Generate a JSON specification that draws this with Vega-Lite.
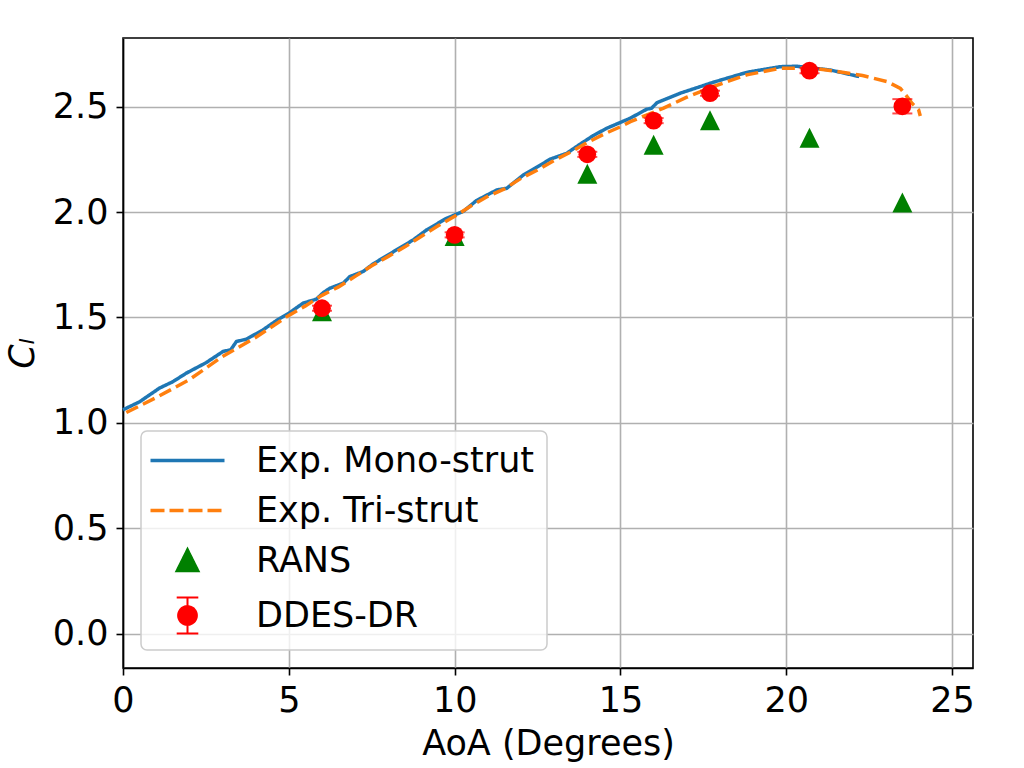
{
  "$schema": "https://vega.github.io/schema/vega-lite/v6.json",
  "autosize": {"type": "none"},
  "padding": {"left": 123, "top": 38, "right": 51, "bottom": 100},
  "width": 850,
  "height": 630,
  "config": {
    "font": "DejaVu Sans",
    "view": {"stroke": "black", "strokeWidth": 1.6},
    "axis": {
      "labelFont": "DejaVu Sans", "labelFontSize": 35, "labelColor": "black",
      "titleFont": "DejaVu Sans", "titleFontSize": 35, "titleColor": "black", "titleFontWeight": "normal",
      "domainColor": "black", "domainWidth": 1.6,
      "tickColor": "black", "tickWidth": 1.6, "tickSize": 7,
      "gridColor": "#b0b0b0", "gridWidth": 1.6, "labelPadding": 8, "labelFlush": false
    },
    "legend": {"labelFont": "DejaVu Sans", "labelFontSize": 35, "labelColor": "black", "labelLimit": 0}
  },
  "datasets": {
    "exp": [
      {"series": "Exp. Mono-strut", "AoA": 0, "Cl": 1.062},
      {"series": "Exp. Mono-strut", "AoA": 0.5, "Cl": 1.1},
      {"series": "Exp. Mono-strut", "AoA": 1.1, "Cl": 1.165},
      {"series": "Exp. Mono-strut", "AoA": 1.5, "Cl": 1.195},
      {"series": "Exp. Mono-strut", "AoA": 1.91, "Cl": 1.236},
      {"series": "Exp. Mono-strut", "AoA": 2.5, "Cl": 1.285},
      {"series": "Exp. Mono-strut", "AoA": 3.02, "Cl": 1.339},
      {"series": "Exp. Mono-strut", "AoA": 3.25, "Cl": 1.347},
      {"series": "Exp. Mono-strut", "AoA": 3.42, "Cl": 1.386},
      {"series": "Exp. Mono-strut", "AoA": 3.72, "Cl": 1.397},
      {"series": "Exp. Mono-strut", "AoA": 4.22, "Cl": 1.441},
      {"series": "Exp. Mono-strut", "AoA": 4.63, "Cl": 1.486},
      {"series": "Exp. Mono-strut", "AoA": 5.0, "Cl": 1.52},
      {"series": "Exp. Mono-strut", "AoA": 5.43, "Cl": 1.568},
      {"series": "Exp. Mono-strut", "AoA": 5.83, "Cl": 1.587},
      {"series": "Exp. Mono-strut", "AoA": 6.04, "Cl": 1.618},
      {"series": "Exp. Mono-strut", "AoA": 6.24, "Cl": 1.639},
      {"series": "Exp. Mono-strut", "AoA": 6.64, "Cl": 1.663},
      {"series": "Exp. Mono-strut", "AoA": 6.84, "Cl": 1.694},
      {"series": "Exp. Mono-strut", "AoA": 7.24, "Cl": 1.718},
      {"series": "Exp. Mono-strut", "AoA": 7.54, "Cl": 1.754},
      {"series": "Exp. Mono-strut", "AoA": 8.25, "Cl": 1.821},
      {"series": "Exp. Mono-strut", "AoA": 8.75, "Cl": 1.868},
      {"series": "Exp. Mono-strut", "AoA": 9.16, "Cl": 1.916},
      {"series": "Exp. Mono-strut", "AoA": 9.76, "Cl": 1.971},
      {"series": "Exp. Mono-strut", "AoA": 10.26, "Cl": 2.003},
      {"series": "Exp. Mono-strut", "AoA": 10.66, "Cl": 2.055},
      {"series": "Exp. Mono-strut", "AoA": 11.27, "Cl": 2.105},
      {"series": "Exp. Mono-strut", "AoA": 11.57, "Cl": 2.113},
      {"series": "Exp. Mono-strut", "AoA": 12.07, "Cl": 2.176},
      {"series": "Exp. Mono-strut", "AoA": 12.37, "Cl": 2.203},
      {"series": "Exp. Mono-strut", "AoA": 12.88, "Cl": 2.251},
      {"series": "Exp. Mono-strut", "AoA": 13.38, "Cl": 2.279},
      {"series": "Exp. Mono-strut", "AoA": 13.78, "Cl": 2.322},
      {"series": "Exp. Mono-strut", "AoA": 14.18, "Cl": 2.363},
      {"series": "Exp. Mono-strut", "AoA": 14.59, "Cl": 2.398},
      {"series": "Exp. Mono-strut", "AoA": 15.29, "Cl": 2.445},
      {"series": "Exp. Mono-strut", "AoA": 15.79, "Cl": 2.488},
      {"series": "Exp. Mono-strut", "AoA": 15.94, "Cl": 2.493},
      {"series": "Exp. Mono-strut", "AoA": 16.1, "Cl": 2.519},
      {"series": "Exp. Mono-strut", "AoA": 16.8, "Cl": 2.564},
      {"series": "Exp. Mono-strut", "AoA": 17.8, "Cl": 2.616},
      {"series": "Exp. Mono-strut", "AoA": 18.81, "Cl": 2.663},
      {"series": "Exp. Mono-strut", "AoA": 19.82, "Cl": 2.69},
      {"series": "Exp. Mono-strut", "AoA": 20.32, "Cl": 2.692},
      {"series": "Exp. Mono-strut", "AoA": 21.33, "Cl": 2.674},
      {"series": "Exp. Mono-strut", "AoA": 22.2, "Cl": 2.643},
      {"series": "Exp. Tri-strut", "AoA": 0.1, "Cl": 1.049},
      {"series": "Exp. Tri-strut", "AoA": 1, "Cl": 1.12},
      {"series": "Exp. Tri-strut", "AoA": 2, "Cl": 1.205},
      {"series": "Exp. Tri-strut", "AoA": 3, "Cl": 1.315},
      {"series": "Exp. Tri-strut", "AoA": 4, "Cl": 1.405},
      {"series": "Exp. Tri-strut", "AoA": 4.6, "Cl": 1.468},
      {"series": "Exp. Tri-strut", "AoA": 5, "Cl": 1.51},
      {"series": "Exp. Tri-strut", "AoA": 5.5, "Cl": 1.555},
      {"series": "Exp. Tri-strut", "AoA": 6, "Cl": 1.605},
      {"series": "Exp. Tri-strut", "AoA": 6.5, "Cl": 1.645},
      {"series": "Exp. Tri-strut", "AoA": 7, "Cl": 1.695},
      {"series": "Exp. Tri-strut", "AoA": 7.5, "Cl": 1.745},
      {"series": "Exp. Tri-strut", "AoA": 8, "Cl": 1.79},
      {"series": "Exp. Tri-strut", "AoA": 8.5, "Cl": 1.835},
      {"series": "Exp. Tri-strut", "AoA": 9, "Cl": 1.885},
      {"series": "Exp. Tri-strut", "AoA": 9.5, "Cl": 1.935},
      {"series": "Exp. Tri-strut", "AoA": 10, "Cl": 1.98},
      {"series": "Exp. Tri-strut", "AoA": 10.5, "Cl": 2.03},
      {"series": "Exp. Tri-strut", "AoA": 11, "Cl": 2.075},
      {"series": "Exp. Tri-strut", "AoA": 11.5, "Cl": 2.11},
      {"series": "Exp. Tri-strut", "AoA": 12, "Cl": 2.16},
      {"series": "Exp. Tri-strut", "AoA": 12.5, "Cl": 2.2},
      {"series": "Exp. Tri-strut", "AoA": 13, "Cl": 2.245},
      {"series": "Exp. Tri-strut", "AoA": 13.5, "Cl": 2.285},
      {"series": "Exp. Tri-strut", "AoA": 14, "Cl": 2.33},
      {"series": "Exp. Tri-strut", "AoA": 14.5, "Cl": 2.37},
      {"series": "Exp. Tri-strut", "AoA": 15, "Cl": 2.405},
      {"series": "Exp. Tri-strut", "AoA": 15.3, "Cl": 2.429},
      {"series": "Exp. Tri-strut", "AoA": 16.3, "Cl": 2.493},
      {"series": "Exp. Tri-strut", "AoA": 17, "Cl": 2.545},
      {"series": "Exp. Tri-strut", "AoA": 17.8, "Cl": 2.596},
      {"series": "Exp. Tri-strut", "AoA": 18.81, "Cl": 2.651},
      {"series": "Exp. Tri-strut", "AoA": 19.82, "Cl": 2.683},
      {"series": "Exp. Tri-strut", "AoA": 20.82, "Cl": 2.683},
      {"series": "Exp. Tri-strut", "AoA": 21.5, "Cl": 2.668},
      {"series": "Exp. Tri-strut", "AoA": 22.3, "Cl": 2.648},
      {"series": "Exp. Tri-strut", "AoA": 23.04, "Cl": 2.619},
      {"series": "Exp. Tri-strut", "AoA": 23.44, "Cl": 2.587},
      {"series": "Exp. Tri-strut", "AoA": 23.64, "Cl": 2.548},
      {"series": "Exp. Tri-strut", "AoA": 23.79, "Cl": 2.516},
      {"series": "Exp. Tri-strut", "AoA": 23.99, "Cl": 2.485},
      {"series": "Exp. Tri-strut", "AoA": 24.04, "Cl": 2.456}
    ],
    "rans": [
      {"series": "RANS", "AoA": 6.0, "Cl": 1.53},
      {"series": "RANS", "AoA": 10.0, "Cl": 1.887},
      {"series": "RANS", "AoA": 14.0, "Cl": 2.182},
      {"series": "RANS", "AoA": 16.0, "Cl": 2.319},
      {"series": "RANS", "AoA": 17.7, "Cl": 2.436},
      {"series": "RANS", "AoA": 20.7, "Cl": 2.353},
      {"series": "RANS", "AoA": 23.5, "Cl": 2.045}
    ],
    "ddes": [
      {"series": "DDES-DR", "AoA": 6.0, "Cl": 1.544, "lo": 1.532, "hi": 1.556},
      {"series": "DDES-DR", "AoA": 10.0, "Cl": 1.892, "lo": 1.88, "hi": 1.904},
      {"series": "DDES-DR", "AoA": 14.0, "Cl": 2.274, "lo": 2.262, "hi": 2.286},
      {"series": "DDES-DR", "AoA": 16.0, "Cl": 2.434, "lo": 2.422, "hi": 2.446},
      {"series": "DDES-DR", "AoA": 17.7, "Cl": 2.564, "lo": 2.552, "hi": 2.576},
      {"series": "DDES-DR", "AoA": 20.7, "Cl": 2.671, "lo": 2.659, "hi": 2.683},
      {"series": "DDES-DR", "AoA": 23.5, "Cl": 2.502, "lo": 2.468, "hi": 2.536}
    ]
  },
  "layer": [
    {
      "data": {"name": "exp"},
      "mark": {"type": "line", "strokeWidth": 3.5},
      "encoding": {
        "x": {"field": "AoA", "type": "quantitative",
              "scale": {"domain": [0, 25.63], "nice": false, "zero": false},
              "axis": {"title": "AoA (Degrees)", "values": [0, 5, 10, 15, 20, 25], "titlePadding": 8}},
        "y": {"field": "Cl", "type": "quantitative",
              "scale": {"domain": [-0.163, 2.826], "nice": false, "zero": false},
              "axis": {"title": "Cₗ", "titleFontStyle": "italic", "values": [0, 0.5, 1, 1.5, 2, 2.5], "format": ".1f", "titlePadding": 12}},
        "color": {"field": "series", "type": "nominal",
                  "scale": {"domain": ["Exp. Mono-strut", "Exp. Tri-strut", "RANS", "DDES-DR"],
                            "range": ["#1f77b4", "#ff7f0e", "#008000", "#ff0000"]},
                  "legend": {
                    "title": null, "orient": "bottom-left", "offset": 18, "labelLimit": 0,
                    "fillColor": "rgba(255,255,255,0.8)", "strokeColor": "#cccccc", "cornerRadius": 6,
                    "padding": 12, "symbolSize": 1600, "symbolOffset": 17, "labelOffset": 51, "rowPadding": 14,
                    "encode": {
                      "symbols": {"update": {
                        "shape": {"signal": "datum.value==='RANS' ? 'M0,-1L1,1L-1,1Z' : datum.value==='DDES-DR' ? 'M0,-1L0,1M-0.6,-1L0.6,-1M-0.6,1L0.6,1M0.52,0A0.52,0.52,0,1,1,-0.52,0A0.52,0.52,0,1,1,0.52,0Z' : 'M-1,0L1,0'"},
                        "size": {"signal": "datum.value==='RANS' ? 400 : datum.value==='DDES-DR' ? 1296 : 5476"},
                        "fill": {"signal": "datum.value==='RANS' ? '#008000' : datum.value==='DDES-DR' ? '#ff0000' : 'transparent'"},
                        "stroke": {"signal": "datum.value==='Exp. Mono-strut' ? '#1f77b4' : datum.value==='Exp. Tri-strut' ? '#ff7f0e' : datum.value==='DDES-DR' ? '#ff0000' : 'transparent'"},
                        "strokeWidth": {"signal": "datum.value==='DDES-DR' ? 2 : 3.5"},
                        "strokeDash": {"signal": "datum.value==='Exp. Tri-strut' ? [14,5] : [1,0]"},
                        "opacity": {"value": 1}
                      }},
                      "legend": {"update": {"strokeWidth": {"value": 1.5}}}
                    }
                  }},
        "strokeDash": {"field": "series", "type": "nominal",
                       "scale": {"domain": ["Exp. Mono-strut", "Exp. Tri-strut"], "range": [[1, 0], [13, 5.6]]},
                       "legend": null}
      }
    },
    {
      "data": {"name": "ddes"},
      "mark": {"type": "rule", "color": "#ff0000", "strokeWidth": 2},
      "encoding": {
        "x": {"field": "AoA", "type": "quantitative"},
        "y": {"field": "lo", "type": "quantitative"},
        "y2": {"field": "hi"}
      }
    },
    {
      "data": {"name": "ddes"},
      "mark": {"type": "tick", "orient": "horizontal", "color": "#ff0000", "size": 20, "thickness": 2},
      "encoding": {
        "x": {"field": "AoA", "type": "quantitative"},
        "y": {"field": "lo", "type": "quantitative"}
      }
    },
    {
      "data": {"name": "ddes"},
      "mark": {"type": "tick", "orient": "horizontal", "color": "#ff0000", "size": 20, "thickness": 2},
      "encoding": {
        "x": {"field": "AoA", "type": "quantitative"},
        "y": {"field": "hi", "type": "quantitative"}
      }
    },
    {
      "data": {"name": "rans"},
      "mark": {"type": "point", "filled": true, "opacity": 1, "shape": "M0,-1L1,1L-1,1Z", "size": 400},
      "encoding": {
        "x": {"field": "AoA", "type": "quantitative"},
        "y": {"field": "Cl", "type": "quantitative"},
        "color": {"field": "series", "type": "nominal"}
      }
    },
    {
      "data": {"name": "ddes"},
      "mark": {"type": "point", "filled": true, "opacity": 1, "shape": "circle", "size": 314},
      "encoding": {
        "x": {"field": "AoA", "type": "quantitative"},
        "y": {"field": "Cl", "type": "quantitative"},
        "color": {"field": "series", "type": "nominal"}
      }
    }
  ]
}
